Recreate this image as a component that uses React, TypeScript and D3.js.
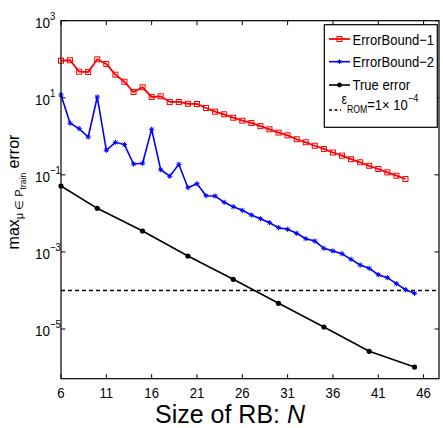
import * as d3 from "d3";

// ---- data ----
const N_BOUND1 = [6, 7, 8, 9, 10, 11, 12, 13, 14, 15, 16, 17, 18, 19, 20, 21, 22, 23, 24, 25,
  26, 27, 28, 29, 30, 31, 32, 33, 34, 35, 36, 37, 38, 39, 40, 41, 42, 43, 44];
const BOUND1 = [91.6, 94, 47.5, 46.7, 99.5, 75.2, 39.7, 26.1, 14.1, 18.7, 10.5, 10.9, 7.8, 7.8,
  7.0, 6.9, 5.43, 4.36, 3.73, 3.04, 2.54, 2.22, 1.84, 1.52, 1.25, 1.06, 0.84, 0.70, 0.57, 0.47,
  0.38, 0.315, 0.255, 0.212, 0.172, 0.142, 0.116, 0.095, 0.078];

const N_BOUND2 = [6, 7, 8, 9, 10, 11, 12, 13, 14, 15, 16, 17, 18, 19, 20, 21, 22, 23, 24, 25,
  26, 27, 28, 29, 30, 31, 32, 33, 34, 35, 36, 37, 38, 39, 40, 41, 42, 43, 44, 45];
const BOUND2 = [11.8, 2.18, 1.58, 0.96, 10.5, 0.434, 0.70, 0.61, 0.191, 0.20, 1.52, 0.136, 0.092,
  0.188, 0.0465, 0.059, 0.0288, 0.0283, 0.0194, 0.0149, 0.0120, 0.00908, 0.00728, 0.00574,
  0.00426, 0.00387, 0.00305, 0.00221, 0.00192, 0.00124, 0.00106, 0.0009, 0.000644, 0.000458,
  0.000376, 0.000256, 0.000215, 0.00015, 0.000105, 0.0000845];

const N_TRUE = [6, 10, 15, 20, 25, 30, 35, 40, 45];
const TRUE_ERR = [0.0514, 0.01355, 0.00349, 0.000785, 0.000195, 0.0000465, 0.0000113, 0.00000264, 0.00000103];

const EPS_ROM = 1e-4;

const X_TICKS = [6, 11, 16, 21, 26, 31, 36, 41, 46];
const Y_TICK_EXP = [3, 1, -1, -3, -5];

const LEFT = 61, RIGHT = 439, TOP = 20.7, BOTTOM = 378.7;
const FONT = "'Liberation Sans', Arial, Helvetica, sans-serif";
const RED = "#ff0000", BLUE = "#0000ff";

const x = d3.scaleLinear().domain([6, 47.7]).range([LEFT, RIGHT]);
const y = d3.scaleLog().domain([Math.pow(10, -6.289), 1000]).range([BOTTOM, TOP]);

const line = d3.line<[number, number]>().x(d => x(d[0])).y(d => y(d[1]));

const sup = (e: number) => (e < 0 ? "\u2212" + Math.abs(e) : String(e));

function Asterisk({ cx, cy, s = 2.6 }: { cx: number; cy: number; s?: number }) {
  const d = s * 0.72;
  return (
    <g stroke={BLUE} strokeWidth={1}>
      <line x1={cx - s} x2={cx + s} y1={cy} y2={cy} />
      <line x1={cx} x2={cx} y1={cy - s} y2={cy + s} />
      <line x1={cx - d} x2={cx + d} y1={cy - d} y2={cy + d} />
      <line x1={cx - d} x2={cx + d} y1={cy + d} y2={cy - d} />
    </g>
  );
}

export default function App() {
  const b1 = N_BOUND1.map((n, i) => [n, BOUND1[i]] as [number, number]);
  const b2 = N_BOUND2.map((n, i) => [n, BOUND2[i]] as [number, number]);
  const te = N_TRUE.map((n, i) => [n, TRUE_ERR[i]] as [number, number]);

  return (
    <div style={{ position: "absolute", left: 0, top: 0, width: 443, height: 428, background: "#fff" }}>
      <svg width={443} height={428} style={{ display: "block" }} fontFamily={FONT}>
        <rect width={443} height={428} fill="#fff" />

        {/* ticks (inside, all four sides) */}
        <g stroke="#000" strokeWidth={1}>
          {X_TICKS.map(t => (
            <g key={"xt" + t}>
              <line x1={x(t)} x2={x(t)} y1={BOTTOM} y2={BOTTOM - 4.5} />
              <line x1={x(t)} x2={x(t)} y1={TOP} y2={TOP + 4.5} />
            </g>
          ))}
          {Y_TICK_EXP.map(e => (
            <g key={"yt" + e}>
              <line x1={LEFT} x2={LEFT + 4.5} y1={y(Math.pow(10, e))} y2={y(Math.pow(10, e))} />
              <line x1={RIGHT} x2={RIGHT - 4.5} y1={y(Math.pow(10, e))} y2={y(Math.pow(10, e))} />
            </g>
          ))}
        </g>

        {/* tick labels */}
        {X_TICKS.map(t => (
          <text key={"xl" + t} transform={`translate(${x(t)},398) scale(0.88,1)`} textAnchor="middle" fontSize={15}>
            {t}
          </text>
        ))}
        {Y_TICK_EXP.map(e => (
          <text key={"yl" + e} transform={`translate(35,${y(Math.pow(10, e)) + 7}) scale(0.9,1)`} fontSize={15}>
            <tspan>10</tspan>
            <tspan fontSize={10.5} dy={-8}>{sup(e)}</tspan>
          </text>
        ))}

        {/* threshold */}
        <line x1={LEFT} x2={RIGHT} y1={y(EPS_ROM)} y2={y(EPS_ROM)} stroke="#000" strokeWidth={1.6} strokeDasharray="4,3" />

        {/* ErrorBound-1 */}
        <path d={line(b1) ?? ""} fill="none" stroke={RED} strokeWidth={1.8} />
        {b1.map(([n, v]) => (
          <rect key={"r" + n} x={x(n) - 2.5} y={y(v) - 2.5} width={5} height={5} fill="none" stroke={RED} strokeWidth={1} />
        ))}

        {/* ErrorBound-2 */}
        <path d={line(b2) ?? ""} fill="none" stroke={BLUE} strokeWidth={1.6} />
        {b2.map(([n, v]) => (
          <Asterisk key={"b" + n} cx={x(n)} cy={y(v)} />
        ))}

        {/* True error */}
        <path d={line(te) ?? ""} fill="none" stroke="#000" strokeWidth={1.6} />
        {te.map(([n, v]) => (
          <circle key={"k" + n} cx={x(n)} cy={y(v)} r={2.6} fill="#000" />
        ))}

        {/* frame */}
        <rect x={LEFT} y={TOP} width={RIGHT - LEFT} height={BOTTOM - TOP} fill="none" stroke="#000" strokeWidth={1.2} />

        {/* legend */}
        <g>
          <rect x={324.3} y={24.7} width={113} height={102.6} fill="#fff" stroke="#000" strokeWidth={1.2} />
          <line x1={329} x2={350} y1={39} y2={39} stroke={RED} strokeWidth={1.8} />
          <rect x={337} y={36.5} width={5} height={5} fill="none" stroke={RED} strokeWidth={1} />
          <text transform="translate(352.5,44.5) scale(0.87,1)" fontSize={15}>ErrorBound−1</text>

          <line x1={329} x2={350} y1={61.7} y2={61.7} stroke={BLUE} strokeWidth={1.6} />
          <Asterisk cx={339.5} cy={61.7} s={2.2} />
          <text transform="translate(352.5,67) scale(0.87,1)" fontSize={15}>ErrorBound−2</text>

          <line x1={329} x2={350} y1={85} y2={85} stroke="#000" strokeWidth={1.6} />
          <circle cx={339.5} cy={85} r={2.4} fill="#000" />
          <text transform="translate(352.5,90.3) scale(0.87,1)" fontSize={15}>True error</text>

          <line x1={329} x2={341} y1={110} y2={110} stroke="#000" strokeWidth={1.6} strokeDasharray="3,2.5" />
          <text transform="translate(341.5,104) scale(0.87,1)" fontSize={14}>
            <tspan>ε</tspan>
            <tspan fontSize={10} dy={9}>ROM</tspan>
            <tspan fontSize={15} dy={-3}>=1× 10</tspan>
            <tspan fontSize={10.5} dy={-8}>−4</tspan>
          </text>
        </g>

        {/* axis labels */}
        <text x={230} y={423} textAnchor="middle" fontSize={25}>
          <tspan>Size of RB: </tspan>
          <tspan fontStyle="italic">N</tspan>
        </text>
        <text transform="translate(18.5,192) rotate(-90)" textAnchor="middle" fontSize={16}>
          <tspan>max</tspan>
          <tspan fontSize={11} dy={4}>{"μ ∈ P"}</tspan>
          <tspan fontSize={8.5} dy={3}>train</tspan>
          <tspan fontSize={16} dy={-7}>{"\u00a0error"}</tspan>
        </text>
      </svg>
    </div>
  );
}
